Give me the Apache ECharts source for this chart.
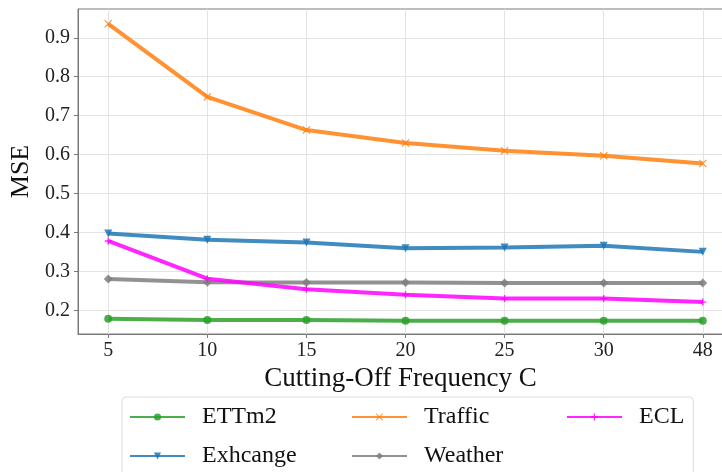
<!DOCTYPE html>
<html>
<head>
<meta charset="utf-8">
<script src="https://cdn.jsdelivr.net/npm/echarts@6/dist/echarts.min.js"></script>
<style>html,body{margin:0;padding:0;background:#fff;overflow:hidden;}#c{width:722px;height:472px;}</style>
</head>
<body>
<div id="c"></div>
<script>
const categories = ['5', '10', '15', '20', '25', '30', '48'];
const ettm2 = [0.178, 0.175, 0.175, 0.173, 0.173, 0.173, 0.173];
const exchange = [0.397, 0.381, 0.374, 0.359, 0.361, 0.366, 0.350];
const traffic = [0.936, 0.748, 0.663, 0.630, 0.610, 0.597, 0.577];
const weather = [0.280, 0.272, 0.271, 0.271, 0.270, 0.270, 0.270];
const ecl = [0.378, 0.281, 0.254, 0.240, 0.230, 0.230, 0.221];
const yTicks = [0.2, 0.3, 0.4, 0.5, 0.6, 0.7, 0.8, 0.9];
const xTicks = categories.map((c, i) => i);

const FONT = '"Liberation Serif", "DejaVu Serif", serif';
const X_PATH = 'path://M0,1L1,0L5,4L9,0L10,1L6,5L10,9L9,10L5,6L1,10L0,9L4,5Z';
const PLUS_PATH = 'path://M4,0H6V4H10V6H6V10H4V6H0V4H4Z';

function mk(name, vals, color, symbol, size, rot) {
  return {
    name: name,
    type: 'line',
    data: vals.map((v, i) => [i, v]),
    symbol: symbol,
    symbolSize: size,
    symbolRotate: rot || 0,
    showSymbol: true,
    lineStyle: { width: 4, color: color, opacity: 0.85 },
    itemStyle: { color: color, opacity: 0.85 },
    emphasis: { disabled: true },
    animation: false,
    z: 2
  };
}

const chart = echarts.init(document.getElementById('c'), null, { renderer: 'canvas' });
chart.setOption({
  backgroundColor: '#fff',
  animation: false,
  grid: {
    left: 78, top: 9, right: -11, bottom: 138,
    outerBoundsMode: 'none',
    containLabel: false,
    show: true, borderColor: '#7a7a7a', borderWidth: 1, backgroundColor: 'transparent'
  },
  xAxis: {
    type: 'value',
    min: -0.305, max: 6.305,
    name: 'Cutting-Off Frequency C',
    nameLocation: 'middle',
    nameGap: 31,
    nameTextStyle: { fontFamily: FONT, fontSize: 27, color: '#111', padding: [0, 10, 0, 0] },
    axisLine: { show: true, onZero: false, lineStyle: { color: '#7a7a7a', width: 1 } },
    axisTick: { show: true, customValues: xTicks, length: 4, lineStyle: { color: '#7a7a7a' } },
    axisLabel: {
      customValues: xTicks,
      fontFamily: FONT, fontSize: 20, color: '#222', margin: 7,
      formatter: (v) => categories[Math.round(v)]
    },
    splitLine: { show: true, lineStyle: { color: '#e3e3e3', width: 1 } }
  },
  yAxis: {
    type: 'value',
    min: 0.139, max: 0.974,
    name: 'MSE',
    nameLocation: 'middle',
    nameGap: 38,
    nameRotate: 90,
    nameTextStyle: { fontFamily: FONT, fontSize: 26, color: '#111' },
    axisLine: { show: true, onZero: false, lineStyle: { color: '#7a7a7a', width: 1 } },
    axisTick: { show: true, customValues: yTicks, length: 4, lineStyle: { color: '#7a7a7a' } },
    axisLabel: {
      customValues: yTicks,
      fontFamily: FONT, fontSize: 20, color: '#222', margin: 8,
      formatter: (v) => v.toFixed(1)
    },
    splitLine: { show: true, lineStyle: { color: '#e3e3e3', width: 1 } }
  },
  legend: {
    left: 122, top: 397,
    width: 570,
    padding: [8, 9, 12, 7],
    itemWidth: 55, itemHeight: 9, itemGap: 15,
    backgroundColor: '#fff',
    borderColor: '#dcdcdc', borderWidth: 1, borderRadius: 4,
    textStyle: { fontFamily: FONT, fontSize: 24, color: '#111', lineHeight: 22, padding: [0, 0, 0, 12] },
    data: [
      { name: 'ETTm2', textStyle: { width: 134 } },
      { name: 'Traffic', textStyle: { width: 127 } },
      { name: 'ECL' },
      { name: 'Exhcange', textStyle: { width: 134 } },
      { name: 'Weather', textStyle: { width: 127 } }
    ]
  },
  series: [
    mk('ETTm2', ettm2, '#2ca02c', 'circle', 8),
    mk('Exhcange', exchange, '#1f77b4', 'triangle', 8, 180),
    mk('Traffic', traffic, '#ff7f0e', X_PATH, 8),
    mk('Weather', weather, '#7f7f7f', 'diamond', 9),
    mk('ECL', ecl, '#ff00ff', PLUS_PATH, 7)
  ]
});
</script>
</body>
</html>
